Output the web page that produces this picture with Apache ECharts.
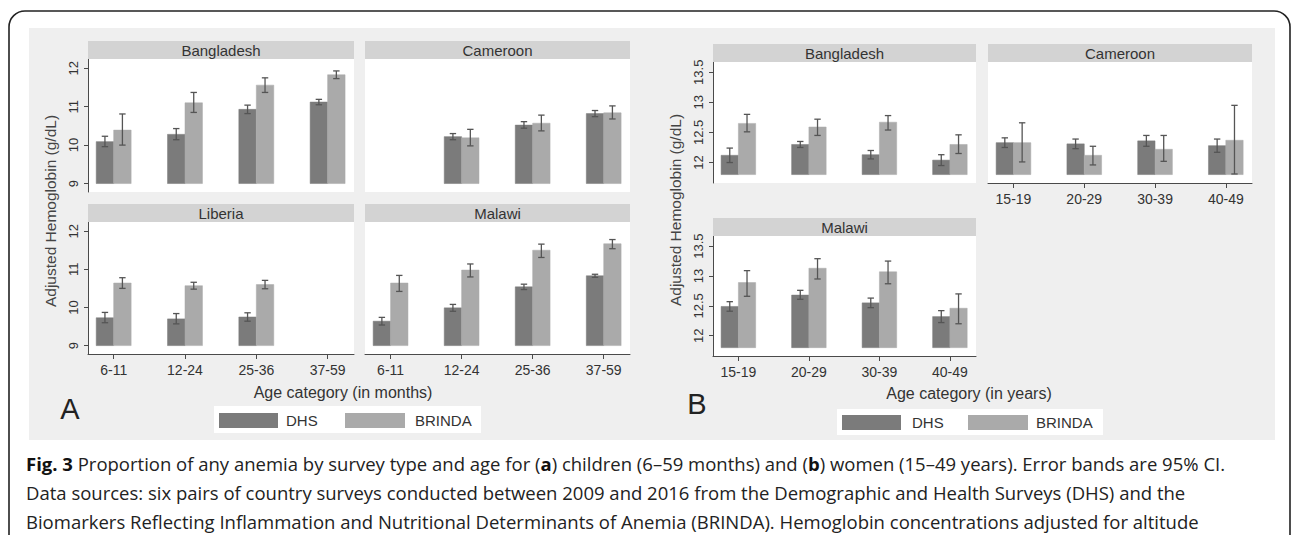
<!DOCTYPE html>
<html><head><meta charset="utf-8">
<script src="https://cdn.jsdelivr.net/npm/echarts@6/dist/echarts.min.js"></script>
<style>html,body{margin:0;padding:0;background:#fff}#c{width:1292px;height:535px}</style>
</head><body><div id="c"></div>
<script>
// ---------- categories & ticks ----------
const childAges = ['6-11', '12-24', '25-36', '37-59'];
const womenAges = ['15-19', '20-29', '30-39', '40-49'];
const childTicks = [9, 10, 11, 12];
const womenTicks = [12, 12.5, 13, 13.5];
const childBase = 9;
const womenBase = 11.8;
const countriesChild = ['Bangladesh', 'Cameroon', 'Liberia', 'Malawi'];
const countriesWomen = ['Bangladesh', 'Cameroon', 'Malawi'];

// ---------- children (6-59 months), adjusted Hb g/dL ----------
const chBanDHS   = [10.09, 10.28, 10.93, 11.12];
const chBanDHSlo = [9.96, 10.14, 10.82, 11.05];
const chBanDHShi = [10.23, 10.43, 11.04, 11.19];
const chBanBR    = [10.39, 11.10, 11.56, 11.83];
const chBanBRlo  = [10.00, 10.85, 11.37, 11.73];
const chBanBRhi  = [10.81, 11.37, 11.75, 11.93];

const chCamDHS   = [null, 10.22, 10.52, 10.82];
const chCamDHSlo = [null, 10.14, 10.44, 10.74];
const chCamDHShi = [null, 10.30, 10.61, 10.90];
const chCamBR    = [null, 10.19, 10.57, 10.84];
const chCamBRlo  = [null, 9.98, 10.37, 10.68];
const chCamBRhi  = [null, 10.41, 10.78, 11.02];

const chLibDHS   = [9.73, 9.70, 9.75, null];
const chLibDHSlo = [9.60, 9.57, 9.64, null];
const chLibDHShi = [9.87, 9.84, 9.86, null];
const chLibBR    = [10.64, 10.57, 10.60, null];
const chLibBRlo  = [10.50, 10.48, 10.49, null];
const chLibBRhi  = [10.78, 10.66, 10.71, null];

const chMalDHS   = [9.64, 9.99, 10.54, 10.83];
const chMalDHSlo = [9.54, 9.90, 10.47, 10.79];
const chMalDHShi = [9.74, 10.08, 10.61, 10.87];
const chMalBR    = [10.64, 10.98, 11.50, 11.67];
const chMalBRlo  = [10.42, 10.80, 11.31, 11.54];
const chMalBRhi  = [10.84, 11.14, 11.66, 11.78];

// ---------- women (15-49 years) ----------
const wmBanDHS   = [12.12, 12.30, 12.13, 12.04];
const wmBanDHSlo = [12.00, 12.25, 12.06, 11.95];
const wmBanDHShi = [12.24, 12.35, 12.20, 12.13];
const wmBanBR    = [12.65, 12.59, 12.67, 12.30];
const wmBanBRlo  = [12.51, 12.45, 12.54, 12.15];
const wmBanBRhi  = [12.80, 12.72, 12.78, 12.46];

const wmCamDHS   = [12.33, 12.31, 12.36, 12.28];
const wmCamDHSlo = [12.25, 12.23, 12.27, 12.17];
const wmCamDHShi = [12.41, 12.39, 12.45, 12.39];
const wmCamBR    = [12.33, 12.12, 12.22, 12.37];
const wmCamBRlo  = [12.01, 11.96, 12.02, 11.81];
const wmCamBRhi  = [12.66, 12.27, 12.45, 12.95];

const wmMalDHS   = [12.49, 12.68, 12.55, 12.32];
const wmMalDHSlo = [12.41, 12.61, 12.47, 12.22];
const wmMalDHShi = [12.57, 12.76, 12.63, 12.42];
const wmMalBR    = [12.89, 13.13, 13.07, 12.46];
const wmMalBRlo  = [12.66, 12.95, 12.87, 12.20];
const wmMalBRhi  = [13.09, 13.29, 13.25, 12.70];

// ---------- styling / layout ----------
const FONT = "'Liberation Sans', Arial, Helvetica, sans-serif";
const CAPFONT = "'Open Sans', 'Noto Sans', sans-serif";
const DHS_COLOR = '#7b7b7b';
const BR_COLOR = '#aaaaaa';
const ERR_COLOR = '#555555';
const AXIS_COLOR = '#4a4a4a';
const STRIP_COLOR = '#d3d3d3';
const BAR_W = 0.245;
const X_MIN = 0.64, X_MAX = 4.37;

const facets = [
  {name: countriesChild[0], grid: {left: 88, top: 59, width: 266, height: 133}, yMin: 8.78, yMax: 12.24, ticks: childTicks, labels: childAges, base: childBase, showY: true, showX: false,
   d: [chBanDHS, chBanDHSlo, chBanDHShi], b: [chBanBR, chBanBRlo, chBanBRhi]},
  {name: countriesChild[1], grid: {left: 365, top: 59, width: 265, height: 133}, yMin: 8.78, yMax: 12.24, ticks: childTicks, labels: childAges, base: childBase, showY: false, showX: false,
   d: [chCamDHS, chCamDHSlo, chCamDHShi], b: [chCamBR, chCamBRlo, chCamBRhi]},
  {name: countriesChild[2], grid: {left: 88, top: 222, width: 266, height: 132}, yMin: 8.78, yMax: 12.24, ticks: childTicks, labels: childAges, base: childBase, showY: true, showX: true,
   d: [chLibDHS, chLibDHSlo, chLibDHShi], b: [chLibBR, chLibBRlo, chLibBRhi]},
  {name: countriesChild[3], grid: {left: 365, top: 222, width: 265, height: 132}, yMin: 8.78, yMax: 12.24, ticks: childTicks, labels: childAges, base: childBase, showY: false, showX: true,
   d: [chMalDHS, chMalDHSlo, chMalDHShi], b: [chMalBR, chMalBRlo, chMalBRhi]},
  {name: countriesWomen[0], grid: {left: 713, top: 62, width: 263, height: 121}, yMin: 11.66, yMax: 13.67, ticks: womenTicks, labels: womenAges, base: womenBase, showY: true, showX: false,
   d: [wmBanDHS, wmBanDHSlo, wmBanDHShi], b: [wmBanBR, wmBanBRlo, wmBanBRhi]},
  {name: countriesWomen[1], grid: {left: 988, top: 62, width: 264, height: 121}, yMin: 11.66, yMax: 13.67, ticks: womenTicks, labels: womenAges, base: womenBase, showY: false, showX: true,
   d: [wmCamDHS, wmCamDHSlo, wmCamDHShi], b: [wmCamBR, wmCamBRlo, wmCamBRhi]},
  {name: countriesWomen[2], grid: {left: 713, top: 236, width: 263, height: 120}, yMin: 11.66, yMax: 13.67, ticks: womenTicks, labels: womenAges, base: womenBase, showY: true, showX: true,
   d: [wmMalDHS, wmMalDHSlo, wmMalDHShi], b: [wmMalBR, wmMalBRlo, wmMalBRhi]}
];

function barSeries(name, idx, arrs, base, side, color) {
  const data = [];
  arrs[0].forEach((m, i) => { if (m != null) data.push([i + 1, m, arrs[1][i], arrs[2][i]]); });
  return {
    type: 'custom', name: name, xAxisIndex: idx, yAxisIndex: idx, data: data, silent: true,
    renderItem: function (params, api) {
      const x = api.value(0), m = api.value(1), lo = api.value(2), hi = api.value(3);
      const pBase = api.coord([x, base]);
      const pTop = api.coord([x, m]);
      const pOut = api.coord([x + side * BAR_W, base]);
      const x0 = Math.min(pBase[0], pOut[0]), x1 = Math.max(pBase[0], pOut[0]);
      const xm = (x0 + x1) / 2;
      const yLo = api.coord([x, lo])[1], yHi = api.coord([x, hi])[1];
      const ls = {stroke: ERR_COLOR, lineWidth: 1.3};
      return {type: 'group', children: [
        {type: 'rect', shape: {x: x0, y: pTop[1], width: x1 - x0, height: pBase[1] - pTop[1]}, style: {fill: color, stroke: color, lineWidth: 0.5}},
        {type: 'line', shape: {x1: xm, y1: yLo, x2: xm, y2: yHi}, style: ls},
        {type: 'line', shape: {x1: xm - 3.2, y1: yHi, x2: xm + 3.2, y2: yHi}, style: ls},
        {type: 'line', shape: {x1: xm - 3.2, y1: yLo, x2: xm + 3.2, y2: yLo}, style: ls}
      ]};
    }
  };
}

const grids = [], xAxes = [], yAxes = [], series = [], graphics = [];

// background & border
graphics.push({type: 'rect', z: -20, shape: {x: 29, y: 28, width: 1246, height: 412}, style: {fill: '#efefef'}});
graphics.push({type: 'rect', z: -21, shape: {x: 9, y: 11, width: 1281, height: 620, r: 16}, style: {fill: '#fff', stroke: '#222', lineWidth: 1.6}});

facets.forEach((f, i) => {
  grids.push(Object.assign({show: true, backgroundColor: '#ffffff', borderWidth: 0, containLabel: false, outerBoundsMode: 'none'}, f.grid));
  xAxes.push({
    gridIndex: i, type: 'value', min: X_MIN, max: X_MAX, show: f.showX,
    axisLine: {show: true, onZero: false, lineStyle: {color: AXIS_COLOR, width: 1}},
    axisTick: {show: true, customValues: [1, 2, 3, 4], length: 5, lineStyle: {color: AXIS_COLOR}},
    axisLabel: {customValues: [1, 2, 3, 4], formatter: (v) => f.labels[Math.round(v) - 1], margin: 9, fontSize: 14, color: '#333', fontFamily: FONT},
    splitLine: {show: false}
  });
  yAxes.push({
    gridIndex: i, type: 'value', min: f.yMin, max: f.yMax, show: f.showY,
    axisLine: {show: true, onZero: false, lineStyle: {color: AXIS_COLOR, width: 1}},
    axisTick: {show: true, customValues: f.ticks, length: 4, lineStyle: {color: AXIS_COLOR}},
    axisLabel: {customValues: f.ticks, rotate: 90, margin: 8, fontSize: 13, color: '#333', fontFamily: FONT},
    splitLine: {show: false}
  });
  series.push(barSeries('DHS', i, f.d, f.base, -1, DHS_COLOR));
  series.push(barSeries('BRINDA', i, f.b, f.base, 1, BR_COLOR));
  // strip
  const g = f.grid;
  const sh = 18;
  graphics.push({type: 'rect', z: 5, shape: {x: g.left, y: g.top - sh, width: g.width, height: sh}, style: {fill: STRIP_COLOR}});
  graphics.push({type: 'text', z: 6, x: g.left + g.width / 2, y: g.top - sh / 2 + 0.5,
    style: {text: f.name, fontSize: 15, fontFamily: FONT, fill: '#333', align: 'center', verticalAlign: 'middle'}});
});

// axis titles
function vtext(t, x, y) {
  return {type: 'text', z: 6, x: x, y: y, rotation: Math.PI / 2,
    style: {text: t, fontSize: 15.5, fontFamily: FONT, fill: '#444', align: 'center', verticalAlign: 'middle'}};
}
graphics.push(vtext('Adjusted Hemoglobin (g/dL)', 50, 211));
graphics.push(vtext('Adjusted Hemoglobin (g/dL)', 675, 210));
graphics.push({type: 'text', z: 6, x: 343, y: 392, style: {text: 'Age category (in months)', fontSize: 16, fontFamily: FONT, fill: '#333', align: 'center', verticalAlign: 'middle'}});
graphics.push({type: 'text', z: 6, x: 969, y: 393, style: {text: 'Age category (in years)', fontSize: 16, fontFamily: FONT, fill: '#333', align: 'center', verticalAlign: 'middle'}});
graphics.push({type: 'text', z: 6, x: 70, y: 409, style: {text: 'A', fontSize: 29, fontFamily: FONT, fill: '#222', align: 'center', verticalAlign: 'middle'}});
graphics.push({type: 'text', z: 6, x: 697, y: 404, style: {text: 'B', fontSize: 29, fontFamily: FONT, fill: '#222', align: 'center', verticalAlign: 'middle'}});

// legends
function legend(box, sw1, t1, sw2, t2, sy) {
  graphics.push({type: 'rect', z: 5, shape: box, style: {fill: '#fff'}});
  graphics.push({type: 'rect', z: 6, shape: {x: sw1, y: sy, width: 59, height: 15}, style: {fill: DHS_COLOR}});
  graphics.push({type: 'text', z: 6, x: t1, y: sy + 7.5, style: {text: 'DHS', fontSize: 15, fontFamily: FONT, fill: '#333', verticalAlign: 'middle'}});
  graphics.push({type: 'rect', z: 6, shape: {x: sw2, y: sy, width: 60, height: 15}, style: {fill: BR_COLOR}});
  graphics.push({type: 'text', z: 6, x: t2, y: sy + 7.5, style: {text: 'BRINDA', fontSize: 15, fontFamily: FONT, fill: '#333', verticalAlign: 'middle'}});
}
legend({x: 214, y: 406, width: 267, height: 27}, 219, 286, 345, 415, 413);
legend({x: 837, y: 409, width: 266, height: 26}, 842, 912, 968, 1036, 415);

// caption
const captionLines = [
  '{b|Fig. 3} Proportion of any anemia by survey type and age for ({b|a}) children (6\u201359 months) and ({b|b}) women (15\u201349 years). Error bands are 95% CI.',
  'Data sources: six pairs of country surveys conducted between 2009 and 2016 from the Demographic and Health Surveys (DHS) and the',
  'Biomarkers Reflecting Inflammation and Nutritional Determinants of Anemia (BRINDA). Hemoglobin concentrations adjusted for altitude'
];
[463.5, 492.5, 521].forEach((y, k) => {
  graphics.push({type: 'text', z: 6, x: 26, y: y, style: {text: captionLines[k], fontSize: 18.5, fontFamily: CAPFONT, fill: '#222', verticalAlign: 'middle',
    rich: {b: {fontWeight: 'bold', fontFamily: CAPFONT, fontSize: 18.5, fill: '#111'}}}});
});

const chart = echarts.init(document.getElementById('c'), null, {renderer: 'svg'});
chart.setOption({
  animation: false,
  backgroundColor: '#fff',
  grid: grids, xAxis: xAxes, yAxis: yAxes, series: series,
  graphic: {elements: graphics}
});
</script></body></html>
